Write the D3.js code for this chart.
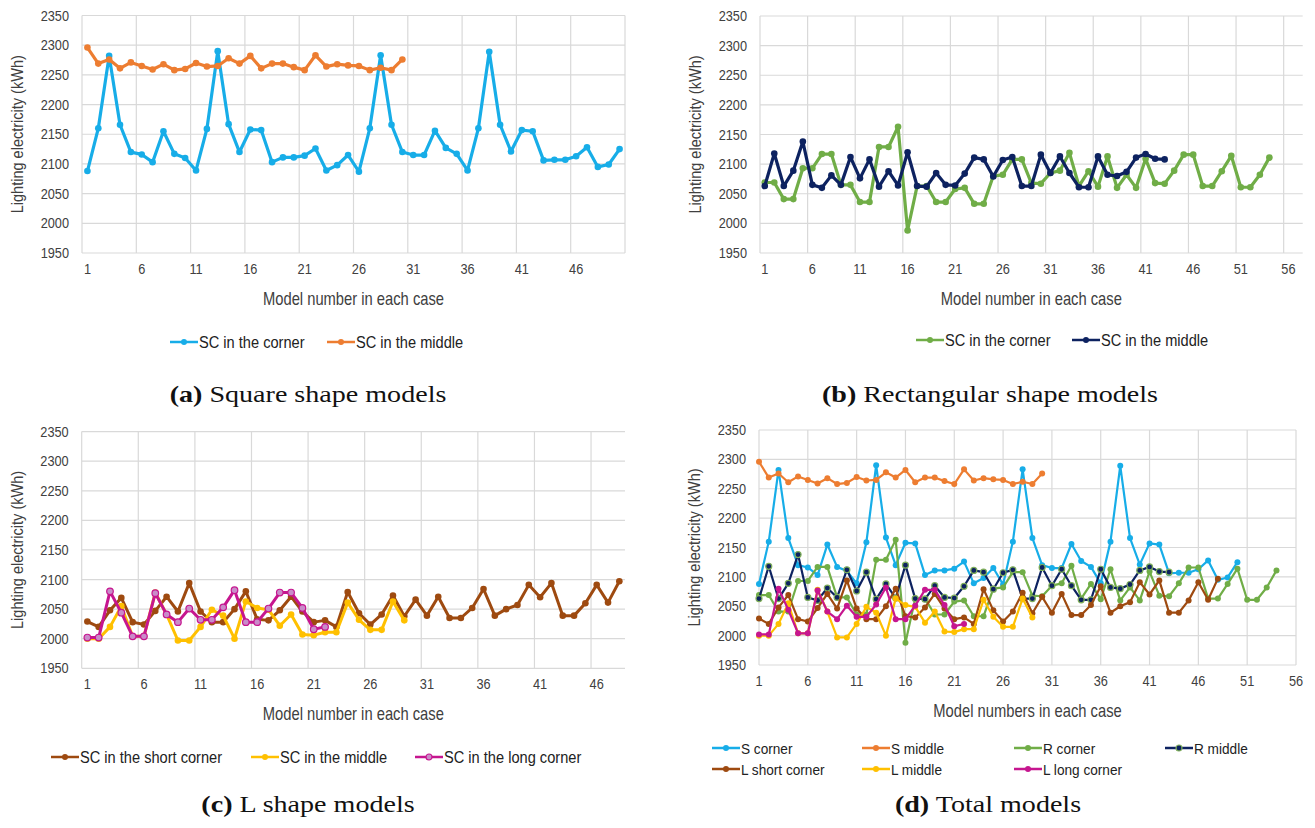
<!DOCTYPE html>
<html>
<head>
<meta charset="utf-8">
<script src="https://cdn.jsdelivr.net/npm/d3@7"></script>
<style>
  body { margin: 0; background: #fff; }
  text { font-family: "Liberation Sans", sans-serif; fill: #404040; }
  .cap { font-family: "Liberation Serif", "DejaVu Serif", serif; fill: #111; }
</style>
</head>
<body>
<div id="chart"></div>
<script>
// values (kWh)
const sCorner = [2088,2160,2282,2166,2120,2116,2103,2155,2117,2110,2089,2159,2290,2167,2120,2158,2157,2103,2111,2111,
  2114,2126,2089,2098,2115,2087,2160,2283,2166,2120,2115,2115,2156,2127,2117,2089,2160,2289,2166,2121,
  2157,2155,2106,2107,2107,2113,2128,2095,2099,2125];
const sMiddle = [2296,2269,2276,2261,2271,2265,2259,2268,2258,2260,2270,2264,2265,2278,2269,2282,2261,2269,2269,2263,
  2258,2283,2264,2268,2266,2265,2258,2262,2258,2276];
const rCorner = [2069,2069,2041,2041,2093,2093,2117,2117,2065,2065,2036,2036,2129,2129,2163,1988,2063,2063,2036,2036,
  2058,2060,2033,2033,2080,2082,2108,2108,2068,2067,2085,2089,2119,2063,2088,2062,2113,2060,2082,2060,
  2109,2068,2067,2089,2116,2116,2063,2063,2088,2114,2061,2061,2082,2111];
const rMiddle = [2063,2118,2063,2089,2138,2065,2060,2081,2065,2112,2076,2108,2062,2088,2064,2120,2063,2062,2085,2065,
  2064,2084,2111,2108,2079,2107,2112,2063,2063,2116,2085,2113,2085,2061,2061,2113,2082,2080,2087,2111,
  2117,2109,2108];
const lShort = [2029,2020,2048,2069,2028,2024,2047,2071,2046,2094,2046,2028,2028,2050,2080,2033,2031,2048,2071,2046,
  2028,2031,2020,2079,2043,2024,2041,2073,2038,2066,2039,2071,2035,2035,2052,2084,2039,2050,2057,2091,
  2070,2094,2039,2039,2060,2091,2061,2097];
const lMiddle = [2000,2000,2020,2055,2004,2004,2078,2041,1997,1997,2020,2049,2039,2000,2063,2052,2049,2022,2041,2007,
  2006,2011,2011,2061,2032,2015,2015,2063,2031];
const lLong = [2002,2002,2080,2044,2004,2004,2077,2041,2028,2051,2032,2032,2053,2082,2028,2028,2051,2078,2078,2052,
  2016,2020];

const yTicks = [1950,2000,2050,2100,2150,2200,2250,2300,2350];

const col = {
  sc: "#17ADE8", sm: "#ED7D31", rc: "#70AD47", rm: "#0D2260",
  ls: "#9E4A10", lm: "#FFC000", ll: "#C6168F"
};

const svg = d3.select("#chart").append("svg")
  .attr("width", 1315).attr("height", 828);

// text squeezed sideways, liberation sans is wider than the original calibri
function label(g, x, y, txt, size, anchor, sx, rot) {
  return g.append("text")
    .attr("transform", `translate(${x},${y})` + (rot ? ` rotate(${rot})` : "") + ` scale(${sx},1)`)
    .attr("text-anchor", anchor || "start")
    .style("font-size", size + "px")
    .text(txt);
}

function panel(p) {
  const g = svg.append("g");
  const y = d3.scaleLinear().domain([1950, 2350]).range([p.bottom, p.top]);
  let x, gridX;
  if (p.nCat) {
    const band = d3.scaleBand().domain(d3.range(1, p.nCat + 1)).range([p.left, p.right]);
    x = i => band(i) + band.bandwidth() / 2;
    gridX = d3.range(0, p.nCat + 1, 5).map(k => p.left + k * band.step());
  } else {
    const pt = d3.scalePoint().domain(d3.range(1, p.nPts + 1)).range([p.left, p.right]);
    x = i => pt(i);
    gridX = p.labels.map(v => pt(v));
  }

  // grid
  g.selectAll(".hg").data(yTicks).enter().append("line")
    .attr("x1", p.left).attr("x2", p.right)
    .attr("y1", d => y(d)).attr("y2", d => y(d))
    .attr("stroke", "#d9d9d9").attr("stroke-width", 1.2);
  g.selectAll(".vg").data(gridX).enter().append("line")
    .attr("x1", d => d).attr("x2", d => d)
    .attr("y1", p.top).attr("y2", p.bottom)
    .attr("stroke", "#d9d9d9").attr("stroke-width", 1.2);

  yTicks.forEach(v => label(g, p.left - 13, y(v) + 5, v, 15, "end", 0.85));
  p.labels.forEach(v => label(g, x(v), p.bottom + 21, v, 15, "middle", 0.85));

  label(g, p.left - 59, (p.top + p.bottom) / 2, "Lighting electricity (kWh)", 16.5, "middle", 0.88, -90);
  label(g, (p.left + p.right) / 2, p.bottom + 52, p.xTitle, 18, "middle", 0.82);

  const line = d3.line().x((d, i) => x(i + 1)).y(d => y(d));
  p.series.forEach(s => {
    g.append("path").datum(s.values)
      .attr("fill", "none").attr("stroke", s.color)
      .attr("stroke-width", p.lw).attr("stroke-linejoin", "round")
      .attr("d", line);
    g.selectAll(null).data(s.values).enter().append("circle")
      .attr("cx", (d, i) => x(i + 1)).attr("cy", d => y(d))
      .attr("r", p.r)
      .attr("fill", s.fill || s.color)
      .attr("stroke", s.stroke || s.color).attr("stroke-width", s.stroke ? 1.2 : 0);
  });

  // legend
  p.legend.forEach(l => {
    const lg = g.append("g").attr("transform", `translate(${l.x},${l.y})`);
    lg.append("line").attr("x1", 0).attr("x2", 28).attr("y1", 0).attr("y2", 0)
      .attr("stroke", l.s.color).attr("stroke-width", 2.5);
    lg.append("circle").attr("cx", 14).attr("cy", 0).attr("r", 3)
      .attr("fill", l.s.fill || l.s.color)
      .attr("stroke", l.s.stroke || l.s.color).attr("stroke-width", l.s.stroke ? 1.2 : 0);
    label(lg, 29, 5.5, l.label, p.legSize, "start", p.legSx).style("fill", "#222");
  });

  // caption
  const cap = g.append("text").attr("class", "cap")
    .attr("transform", `translate(${p.capX},${p.capY}) scale(1.17,1)`)
    .attr("text-anchor", "middle")
    .style("font-size", "24px");
  cap.append("tspan").style("font-weight", "bold").text(p.capTag);
  cap.append("tspan").text(" " + p.capText);
}

const S_C = {values: sCorner, color: col.sc};
const S_M = {values: sMiddle, color: col.sm};
const R_C = {values: rCorner, color: col.rc};
const R_M = {values: rMiddle, color: col.rm};
const L_S = {values: lShort, color: col.ls};
const L_M = {values: lMiddle, color: col.lm};
const L_L = {values: lLong, color: col.ll, fill: "#C98BC9", stroke: col.ll};

const lab46 = d3.range(1, 47, 5);
const lab56 = d3.range(1, 57, 5);

panel({
  left: 82, right: 625, top: 15.5, bottom: 253, nCat: 50, labels: lab46, lw: 3.2, r: 3.3,
  xTitle: "Model number in each case", legSize: 17, legSx: 0.86,
  series: [S_C, S_M],
  legend: [{x: 170, y: 342, s: S_C, label: "SC in the corner"},
           {x: 327, y: 342, s: S_M, label: "SC in the middle"}],
  capX: 308, capY: 402, capTag: "(a)", capText: "Square shape models"
});

panel({
  left: 760, right: 1302.7, top: 16, bottom: 253, nCat: 57, labels: lab56, lw: 3.2, r: 3.3,
  xTitle: "Model number in each case", legSize: 17, legSx: 0.86,
  series: [R_C, R_M],
  legend: [{x: 916, y: 340, s: R_C, label: "SC in the corner"},
           {x: 1072, y: 340, s: R_M, label: "SC in the middle"}],
  capX: 990, capY: 402, capTag: "(b)", capText: "Rectangular shape models"
});

panel({
  left: 81.7, right: 625, top: 431.6, bottom: 668.3, nCat: 48, labels: lab46, lw: 3, r: 3.3,
  xTitle: "Model number in each case", legSize: 17, legSx: 0.86,
  series: [L_S, L_M, L_L],
  legend: [{x: 51, y: 757, s: L_S, label: "SC in the short corner"},
           {x: 251, y: 757, s: L_M, label: "SC in the middle"},
           {x: 415, y: 757, s: L_L, label: "SC in the long corner"}],
  capX: 308, capY: 812, capTag: "(c)", capText: "L shape models"
});

const D_RM = {values: rMiddle, color: col.rm, fill: "#0D2260", stroke: "#7fae5a"};
const D_LL = {values: lLong, color: col.ll};
panel({
  left: 759, right: 1296, top: 430, bottom: 665, nPts: 56, labels: lab56, lw: 2.2, r: 3,
  xTitle: "Model numbers in each case", legSize: 15.5, legSx: 0.88,
  series: [S_C, S_M, R_C, D_RM, L_S, L_M, D_LL],
  legend: [{x: 712, y: 748, s: S_C, label: "S corner"},
           {x: 862, y: 748, s: S_M, label: "S middle"},
           {x: 1014, y: 748, s: R_C, label: "R corner"},
           {x: 1165, y: 748, s: D_RM, label: "R middle"},
           {x: 712, y: 769, s: L_S, label: "L short corner"},
           {x: 862, y: 769, s: L_M, label: "L middle"},
           {x: 1014, y: 769, s: D_LL, label: "L long corner"}],
  capX: 988, capY: 812, capTag: "(d)", capText: "Total models"
});
</script>
</body>
</html>
